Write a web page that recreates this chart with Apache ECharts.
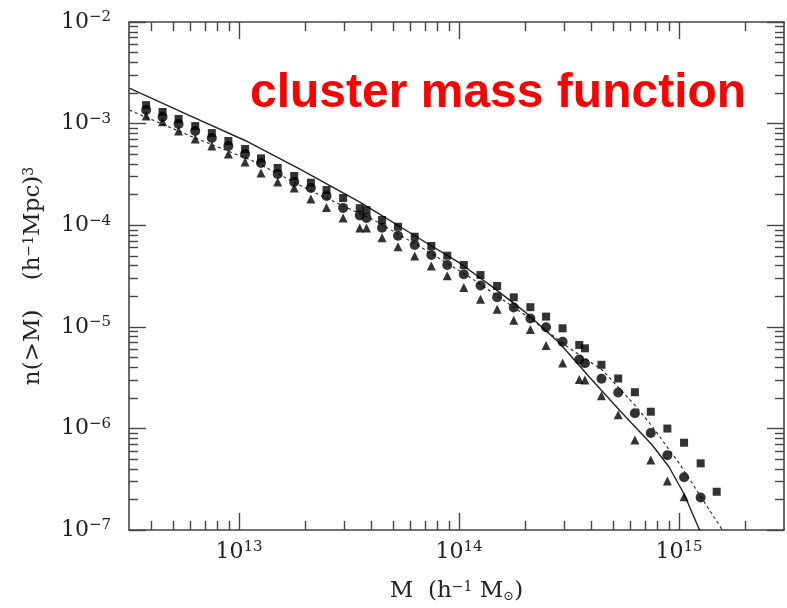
<!DOCTYPE html>
<html>
<head>
<meta charset="utf-8">
<script src="https://cdn.jsdelivr.net/npm/echarts@6/dist/echarts.min.js"></script>
<style>
  html, body { margin: 0; padding: 0; background: #fff; }
  #main { width: 787px; height: 608px; }
</style>
</head>
<body>
<div id="main"></div>
<script>
// halo mass bins, M (h^-1 Msun), shared by the three point sets
const massBins = [3.78e12, 4.49e12, 5.31e12, 6.32e12, 7.52e12, 8.94e12, 1.065e13, 1.258e13, 1.498e13,
  1.781e13, 2.121e13, 2.498e13, 2.972e13, 3.538e13, 3.795e13, 4.466e13, 5.278e13, 6.284e13, 7.48e13,
  8.84e13, 1.051e14, 1.252e14, 1.49e14, 1.773e14, 2.11e14, 2.486e14, 2.956e14, 3.52e14, 3.735e14,
  4.44e14, 5.29e14, 6.3e14, 7.44e14, 8.85e14, 1.054e15, 1.254e15, 1.483e15];

// n(>M) (h^-1 Mpc)^3
const squaresN = [1.52e-3, 1.30e-3, 1.11e-3, 9.46e-4, 8.07e-4, 6.74e-4, 5.62e-4, 4.55e-4, 3.66e-4,
  3.05e-4, 2.62e-4, 2.22e-4, 1.85e-4, 1.47e-4, 1.41e-4, 1.125e-4, 9.66e-5, 7.70e-5, 6.24e-5,
  5.01e-5, 4.06e-5, 3.23e-5, 2.52e-5, 1.95e-5, 1.56e-5, 1.26e-5, 9.66e-6, 6.62e-6, 6.14e-6,
  4.23e-6, 3.10e-6, 2.27e-6, 1.46e-6, 9.97e-7, 7.23e-7, 4.53e-7, 2.38e-7];
const circlesN = [1.36e-3, 1.16e-3, 9.91e-4, 8.45e-4, 7.21e-4, 6.02e-4, 5.02e-4, 4.09e-4, 3.19e-4,
  2.66e-4, 2.32e-4, 1.94e-4, 1.48e-4, 1.245e-4, 1.18e-4, 9.44e-5, 7.88e-5, 6.38e-5, 5.09e-5,
  4.06e-5, 3.29e-5, 2.55e-5, 1.95e-5, 1.55e-5, 1.21e-5, 9.91e-6, 7.13e-6, 4.76e-6, 4.37e-6,
  3.08e-6, 2.26e-6, 1.41e-6, 9.02e-7, 5.45e-7, 3.30e-7, 2.09e-7];
const trianglesN = [1.19e-3, 1.04e-3, 8.45e-4, 7.05e-4, 6.02e-4, 5.02e-4, 4.19e-4, 3.27e-4, 2.66e-4,
  2.32e-4, 1.81e-4, 1.49e-4, 1.18e-4, 9.38e-5, 9.38e-5, 7.53e-5, 6.14e-5, 4.97e-5, 3.97e-5,
  3.18e-5, 2.43e-5, 1.87e-5, 1.49e-5, 1.16e-5, 9.38e-6, 6.55e-6, 4.41e-6, 3.03e-6, 2.99e-6,
  2.10e-6, 1.36e-6, 7.69e-7, 4.89e-7, 3.03e-7, 2.13e-7];

// theory curves
const solidM = [3.17e12, 6.0e12, 1.065e13, 1.89e13, 3.54e13, 7.13e13, 1.005e14, 1.418e14, 2.02e14,
  2.86e14, 3.91e14, 5.35e14, 7.55e14, 9.01e14, 1.054e15, 1.245e15];
const solidN = [2.24e-3, 1.19e-3, 6.82e-4, 3.57e-4, 1.69e-4, 6.68e-5, 4.25e-5, 2.47e-5, 1.37e-5,
  6.93e-6, 3.21e-6, 1.52e-6, 6.87e-7, 4.17e-7, 2.26e-7, 9.77e-8];
const dottedM = [3.17e12, 6.0e12, 1.18e13, 2.10e13, 4.14e13, 6.62e13, 1.117e14, 2.09e14, 3.17e14,
  4.48e14, 6.38e14, 7.46e14, 1.0e15, 1.585e15];
const dottedN = [1.36e-3, 7.55e-4, 4.21e-4, 2.20e-4, 1.11e-4, 6.18e-5, 3.09e-5, 1.22e-5, 6.18e-6,
  3.76e-6, 1.64e-6, 1.08e-6, 4.56e-7, 9.77e-8];

// axis ranges and ticks (decades)
const xRange = [3.16e12, 3.0e15];
const yRange = [1e-7, 1e-2];
const xDecades = [13, 14, 15];
const yDecades = [-7, -6, -5, -4, -3, -2];

const lg = Math.log10;
const pts = (xs, ys) => ys.map((y, i) => [lg(xs[i]), lg(y)]);

function minorTicks(lo, hi) {
  const out = [];
  for (let d = Math.floor(lg(lo)); d <= Math.ceil(lg(hi)); d++) {
    for (let k = 2; k <= 9; k++) {
      const v = lg(k) + d;
      if (v > lg(lo) + 0.002 && v < lg(hi) - 0.002) out.push(v);
    }
  }
  return out;
}

const frameColor = '#444';
const ink = '#222';
const serif = '"DejaVu Serif", "Liberation Serif", serif';
const supRich = {
  b: { fontFamily: serif, fontSize: 22, color: ink, lineHeight: 24 },
  s: { fontFamily: serif, fontSize: 15, color: ink, verticalAlign: 'top', lineHeight: 14 }
};
const expLabel = v => '{b|10}{s|' + String(Math.round(v)).replace('-', '\u2212') + '}';

function axis(dim, pos, major, withLabels) {
  const lo = dim === 'x' ? xRange[0] : yRange[0];
  const hi = dim === 'x' ? xRange[1] : yRange[1];
  const ticks = major ? (dim === 'x' ? xDecades : yDecades) : minorTicks(lo, hi);
  return {
    type: 'value',
    position: pos,
    min: lg(lo),
    max: lg(hi),
    axisLine: { show: major, onZero: false, lineStyle: { color: frameColor, width: 1.6 } },
    axisTick: {
      show: true, inside: true, length: major ? 17 : 9, customValues: ticks,
      lineStyle: { color: frameColor, width: 1.4 }
    },
    axisLabel: {
      show: !!withLabels, customValues: ticks, formatter: expLabel, rich: supRich,
      margin: dim === 'x' ? 10 : 18
    },
    splitLine: { show: false }
  };
}

const chart = echarts.init(document.getElementById('main'));

const xAxes = [axis('x', 'bottom', true, true), axis('x', 'top', true), axis('x', 'bottom', false), axis('x', 'top', false)];
const yAxes = [axis('y', 'left', true, true), axis('y', 'right', true), axis('y', 'left', false), axis('y', 'right', false)];

Object.assign(xAxes[0], {
  name: '{t|M  (h}{s|\u22121}{t| M}{o|\u2299}{t|)}',
  nameLocation: 'middle',
  nameGap: 50,
  nameTextStyle: {
    rich: {
      t: { fontFamily: serif, fontSize: 23, color: ink },
      s: { fontFamily: serif, fontSize: 14, color: ink, verticalAlign: 'top' },
      o: { fontFamily: serif, fontSize: 13, color: ink, verticalAlign: 'bottom', padding: [9, 0, 0, 0] }
    }
  }
});
Object.assign(yAxes[0], {
  name: '{t|n(>M)    (h}{s|\u22121}{t|Mpc)}{s|3}',
  nameLocation: 'middle',
  nameGap: 84,
  nameTextStyle: {
    rich: {
      t: { fontFamily: serif, fontSize: 23, color: ink },
      s: { fontFamily: serif, fontSize: 14, color: ink, verticalAlign: 'top' }
    }
  }
});

chart.setOption({
  backgroundColor: '#fff',
  animation: false,
  grid: { left: 129, right: 3, top: 22, bottom: 78 },
  xAxis: xAxes,
  yAxis: yAxes,
  graphic: [{
    type: 'text',
    x: 250,
    y: 94,
    style: {
      text: 'cluster mass function',
      fill: '#ff0000',
      font: 'bold 48px "Liberation Sans", Arial, sans-serif',
      align: 'left',
      verticalAlign: 'middle'
    }
  }],
  series: [
    {
      type: 'line', data: pts(solidM, solidN), showSymbol: false, clip: true,
      lineStyle: { color: ink, width: 1.4 }, z: 3
    },
    {
      type: 'line', data: pts(dottedM, dottedN), showSymbol: false, clip: true,
      lineStyle: { color: ink, width: 1.1, type: [3, 3] }, z: 3
    },
    {
      type: 'scatter', data: pts(massBins, squaresN), symbol: 'rect', symbolSize: 8,
      itemStyle: { color: '#000' }, z: 4
    },
    {
      type: 'scatter', data: pts(massBins, circlesN), symbol: 'circle', symbolSize: 10,
      itemStyle: { color: '#000' }, z: 4
    },
    {
      type: 'scatter', data: pts(massBins, trianglesN), symbol: 'triangle', symbolSize: 9,
      itemStyle: { color: '#000' }, z: 4
    }
  ]
});
</script>
</body>
</html>
